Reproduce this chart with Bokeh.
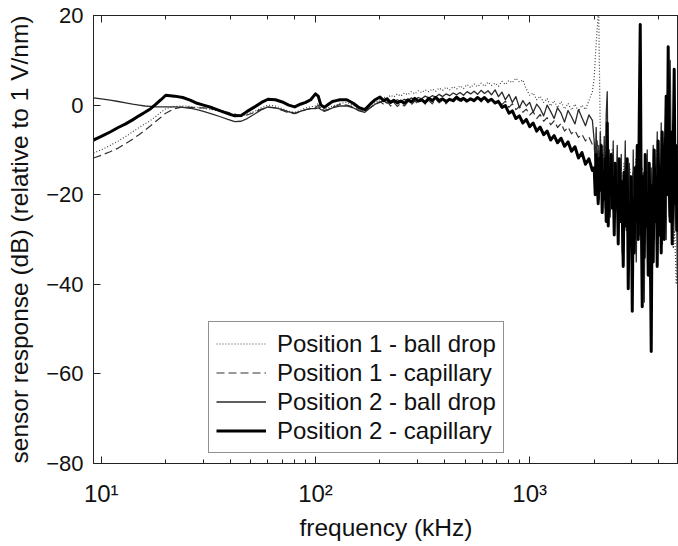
from bokeh.plotting import figure
from bokeh.models import LogAxis, Range1d, Legend, LegendItem, FixedTicker
from bokeh.embed import file_html
from bokeh.resources import INLINE

# ---------------- data (frequency in kHz, response in dB) ----------------
freq_low = [9.2, 10, 11, 12, 13, 14, 15, 16, 17, 18, 19, 20, 22, 24, 26, 28, 30, 33, 36, 39,
            42, 45, 48, 52, 56, 60, 65, 70, 75, 80, 85, 90, 95, 100, 103, 106, 110, 115, 120,
            125, 130, 140, 150, 160, 170, 180, 190]
freq_mid = [200, 208, 216, 224, 232, 241, 250, 260, 270, 280, 291, 302, 313, 325, 338, 351, 364,
            378, 392, 407, 423, 439, 456, 473, 491, 510, 530, 550, 571, 593, 615, 639, 663, 689,
            715, 742, 770, 800, 830, 862, 895, 929, 964, 1000, 1038, 1078, 1119, 1162, 1206,
            1252, 1300, 1349, 1401, 1454, 1510, 1567, 1627, 1689, 1754, 1821, 1890, 1962]
freq_high = [2000, 2032, 2065, 2098, 2132, 2167, 2202, 2237, 2273, 2310, 2347, 2385, 2424, 2463,
             2503, 2543, 2584, 2626, 2668, 2711, 2755, 2800, 2845, 2891, 2938, 2985, 3033, 3082,
             3132, 3183, 3234, 3287, 3340, 3394, 3449, 3504, 3561, 3619, 3677, 3737, 3797, 3858,
             3921, 3984, 4049, 4114, 4181, 4248, 4317, 4387, 4458, 4530, 4603, 4678, 4754, 4830,
             4910, 4950]
freq_high_dense = [2000, 2022, 2043, 2066, 2088, 2111, 2134, 2157, 2180, 2204,
                   2228, 2252, 2276, 2301, 2326, 2351, 2376, 2402, 2428, 2454,
                   2481, 2508, 2535, 2562, 2590, 2618, 2646, 2675, 2704, 2733,
                   2763, 2793, 2823, 2853, 2884, 2915, 2947, 2979, 3011, 3043,
                   3076, 3109, 3143, 3177, 3211, 3246, 3281, 3316, 3352, 3388,
                   3425, 3462, 3499, 3537, 3575, 3614, 3653, 3692, 3732, 3772,
                   3813, 3854, 3896, 3938, 3980, 4023, 4067, 4111, 4155, 4200,
                   4245, 4291, 4337, 4384, 4431, 4479, 4527, 4576, 4625, 4675,
                   4726, 4777, 4828, 4880, 4950]

# Position 1 - ball drop (dotted)
p1_ball_low = [-10.7, -10.0, -9.0, -8.0, -7.0, -6.0, -5.0, -4.2, -3.4, -2.5, -1.6, -0.8, -0.3, -0.2,
               -0.3, -0.5, -0.7, -1.0, -1.4, -1.9, -2.3, -2.5, -2.0, -1.4, -0.6, 0.0, -0.2, -0.8,
               -1.4, -1.6, -1.2, -0.6, -0.4, -0.2, 0.4, -0.6, -1.0, -0.6, -0.2, 0.0, 0.4, 0.6, 0.0,
               -0.8, -1.2, -0.2, 0.6]
p1_ball_mid = [1.2, 1.8, 1.5, 2.2, 1.8, 2.5, 2.0, 2.7, 2.3, 3.0, 2.5, 3.2, 2.8, 3.4, 3.0, 3.6, 3.1,
               3.8, 3.3, 4.0, 3.4, 4.1, 3.6, 4.3, 3.7, 4.6, 3.9, 4.7, 4.1, 4.9, 4.2, 5.1, 4.4, 4.9,
               4.2, 5.3, 4.6, 5.5, 5.0, 6.0, 5.2, 5.6, 3.6, 2.2, 2.7, 1.2, 2.0, 0.6, 1.5, -0.2, 1.0,
               -0.6, 0.8, -0.9, 0.4, -1.1, 0.2, -1.4, 0.0, -1.0, 1.0, 3.0]
p1_ball_high = [6, 12, 17, 22, -4, -12, -9, -16, -11, -20, -13, -18, -10, -22, -14, -19, -12, -24,
                -15, -21, -13, -26, -17, -22, -14, -28, -18, -24, -12, -20, -8, -15, -20, -30, -16,
                -25, -14, -28, -18, -24, -15, -22, -10, -26, -16, -22, -12, -20, -8, -16, -5, -22,
                -12, -32, -28, -40, -33, -49]

# Position 1 - capillary (dashed)
p1_cap_low = [-11.8, -11.2, -10.4, -9.6, -8.6, -7.6, -6.6, -5.6, -4.6, -3.6, -2.7, -1.8, -0.8, -0.4,
              -0.5, -0.6, -0.6, -0.9, -1.2, -1.6, -2.0, -2.4, -2.2, -1.6, -0.9, -0.5, -0.6, -1.2,
              -1.7, -1.9, -1.5, -1.0, -0.8, -0.6, 0.0, -1.0, -1.4, -1.0, -0.4, -0.2, 0.2, 0.0, -0.4,
              -1.2, -1.4, -0.6, 0.2]
p1_cap_mid = [0.8, 0.2, 0.9, -0.2, 0.6, -0.3, 0.4, -0.2, 0.7, 0.1, 0.9, 0.3, 1.1, 0.2, 1.0, 0.3, 1.3,
              0.5, 1.1, 0.3, 1.3, 0.6, 1.5, 0.5, 1.3, 0.5, 1.5, 0.8, 1.6, 0.7, 1.5, 0.5, 1.3, 0.3,
              1.1, 0.1, 0.9, -0.5, 0.3, -1.0, -0.3, -1.6, -0.9, -2.2, -1.5, -3.0, -2.1, -3.6, -2.8,
              -4.4, -3.5, -5.0, -4.1, -5.8, -4.9, -6.4, -5.7, -7.2, -6.5, -8.0, -7.1, -8.8]
p1_cap_high = [-9, -13, -8, -15, -10, -17, -11, -19, -12, -16, -13, -20, -14, -17, -15, -22, -13,
               -18, -15, -24, -16, -19, -14, -26, -17, -21, -15, -28, -18, -22, -10, -18, -14, -30,
               -19, -24, -15, -32, -20, -26, -14, -22, -12, -28, -18, -24, -10, -20, -12, -18, -6,
               -24, -10, -22, -4, -18, -14, -26]

# Position 2 - ball drop (thin solid)
p2_ball_low = [1.6, 1.4, 1.1, 0.8, 0.5, 0.2, 0.0, -0.2, -0.3, -0.4, -0.4, -0.4, -0.4, -0.5, -0.7,
               -1.0, -1.4, -2.0, -2.6, -3.2, -3.7, -3.6, -3.0, -2.0, -1.0, -0.4, -0.6, -1.0, -1.5,
               -1.8, -1.4, -1.0, -0.8, -0.8, -0.6, -1.0, -1.2, -1.0, -0.6, -0.4, -0.2, -0.2, -0.6,
               -1.3, -1.6, -0.6, 0.2]
p2_ball_mid = [0.6, 1.0, 0.4, 0.9, 0.6, 1.2, 0.8, 1.3, 1.0, 1.6, 1.2, 1.7, 1.4, 2.0, 1.6, 2.1, 1.8,
               2.4, 1.9, 2.5, 2.1, 2.7, 2.3, 2.8, 2.2, 3.0, 2.5, 3.1, 2.4, 3.3, 2.6, 3.2, 2.3, 3.4,
               1.9, 2.9, 1.2, 2.4, 0.6, 1.9, -0.6, 1.0, -0.2, 0.6, -1.6, 0.2, -0.8, -2.4, 0.0, -1.4,
               -3.0, -0.6, -1.8, -3.8, -1.2, -2.6, -4.2, -1.0, -2.8, -4.6, -2.2, -3.4]
p2_ball_high = [-8, -14, -5, -17, -9, -21, -6, -15, -11, -19,
                -7, -23, -2, 3, -18, -10, -25, -12, -20, -8,
                -27, -14, -19, -9, -30, -16, -24, -11, -33, -15,
                -22, -8, -28, -17, -38, -13, -25, -19, -31, -10,
                -27, -16, -35, -20, -12, -29, -6, -22, -36, -15,
                -44, -18, -26, -10, -32, -21, -40, -14, -27, -9,
                -30, -17, -24, -6, -28, -13, -20, -4, -31, -11,
                -23, -8, -30, 2, -16, -25, 10, -12, -22, -5,
                -18, -28, -10, -35, -49]

# Position 2 - capillary (thick solid)
p2_cap_low = [-7.8, -7.0, -6.0, -5.0, -4.2, -3.3, -2.4, -1.6, -0.8, 0.2, 1.2, 2.2, 2.0, 1.7, 1.1,
              0.4, 0.0, -0.6, -1.3, -1.9, -2.4, -2.3, -1.4, -0.4, 0.6, 1.3, 1.2, 0.7, 0.0, -0.4,
              0.2, 0.6, 1.2, 2.5, 2.0, 0.0, -0.5, 0.2, 0.8, 1.0, 1.2, 1.2, 0.4, -0.6, -1.0, 0.2, 1.2]
p2_cap_mid = [1.8, 1.0, 1.4, 0.6, 1.1, 0.5, 0.9, 0.4, 1.2, 0.7, 1.5, 0.9, 1.2, 0.6, 1.5, 1.0, 1.7,
              1.0, 1.4, 0.8, 1.3, 1.0, 1.8, 1.1, 1.5, 0.9, 1.4, 1.0, 1.7, 1.1, 1.7, 0.9, 1.3, 0.5,
              0.8, -0.5, -0.1, -1.8, -1.3, -3.0, -2.4, -4.0, -3.2, -4.8, -4.0, -5.8, -4.9, -6.6,
              -5.8, -7.8, -6.8, -8.4, -7.4, -9.2, -8.2, -10.3, -9.3, -11.8, -10.6, -13.2, -12.0,
              -14.6]
p2_cap_high = [-14, -20, -11, -17, -22, -12, -19, -9, -24, -15,
               -21, -12, -26, -4, -27, -14, -20, -11, -23, -16,
               -29, -13, -22, -18, -31, -12, -26, -17, -24, -36,
               -15, -27, -19, -12, -41, -22, -30, -16, -46, -21,
               -33, -14, -26, -9, -30, -3, 18, -22, -45, -16,
               -34, -11, -27, -20, -38, -13, -30, -55, -18, -35,
               -10, -26, -16, -36, -8, -29, -14, -33, -6, -22,
               -30, -12, 2, -20, 13, -17, -26, -6, -31, -11,
               8, -22, -9, -28, -14]

series_labels = ["Position 1 - ball drop", "Position 1 - capillary",
                 "Position 2 - ball drop", "Position 2 - capillary"]

x_ticks = [10, 100, 1000]
x_tick_labels = ["10\u00b9", "10\u00b2", "10\u00b3"]
y_ticks = [-80, -60, -40, -20, 0, 20]

freq_sparse = freq_low + freq_mid + freq_high
freq_dense = freq_low + freq_mid + freq_high_dense
series = [(freq_sparse, p1_ball_low + p1_ball_mid + p1_ball_high),
          (freq_sparse, p1_cap_low + p1_cap_mid + p1_cap_high),
          (freq_dense, p2_ball_low + p2_ball_mid + p2_ball_high),
          (freq_dense, p2_cap_low + p2_cap_mid + p2_cap_high)]

# ---------------- figure ----------------
FONT = "Liberation Sans"
p = figure(width=678, height=546, output_backend="svg", toolbar_location=None,
           x_axis_type="log", x_range=Range1d(9.2, 4950), y_range=Range1d(-80, 20),
           min_border_left=93, min_border_right=0, min_border_top=15, min_border_bottom=83)
p.background_fill_color = "white"
p.border_fill_color = "white"
p.outline_line_color = "#222222"
p.grid.visible = False

styles = [dict(line_color="#444444", line_width=1.2, line_dash="1 2"),
          dict(line_color="#333333", line_width=1.2, line_dash="8 4"),
          dict(line_color="#2a2a2a", line_width=1.3),
          dict(line_color="#000000", line_width=3)]
renderers = []
for (fx, vals), st in zip(series, styles):
    r = p.line(fx, vals, line_join="round", **st)
    renderers.append(r)

def style_axis(ax):
    ax.axis_line_color = "#222222"
    ax.major_tick_line_color = "#222222"
    ax.minor_tick_line_color = "#222222"
    ax.major_tick_in = 7
    ax.major_tick_out = 0
    ax.minor_tick_in = 4
    ax.minor_tick_out = 0
    ax.major_label_text_font = FONT
    ax.major_label_text_color = "#111111"
    ax.axis_label_text_font = FONT
    ax.axis_label_text_font_style = "normal"
    ax.axis_label_text_color = "#111111"

xa = p.xaxis[0]
style_axis(xa)
xa.major_label_overrides = {t: s for t, s in zip(x_ticks, x_tick_labels)}
xa.major_label_text_font_size = "24px"
xa.major_label_standoff = 16
xa.axis_label = "frequency (kHz)"
xa.axis_label_text_font_size = "24.5px"
xa.axis_label_standoff = 4

ya = p.yaxis[0]
style_axis(ya)
ya.ticker = FixedTicker(ticks=y_ticks, minor_ticks=[])
ya.major_label_text_font_size = "22px"
ya.major_label_standoff = 10
ya.axis_label = "sensor response (dB) (relative to 1 V/nm)"
ya.axis_label_text_font_size = "24.5px"
ya.axis_label_standoff = 10

top = LogAxis()
style_axis(top)
top.major_label_text_font_size = "2px"
top.major_label_text_alpha = 0
top.major_label_standoff = 0
p.add_layout(top, "above")

legend = Legend(items=[LegendItem(label=l, renderers=[r]) for l, r in zip(series_labels, renderers)],
                location=(115, 10))
legend.label_text_font = FONT
legend.label_text_font_size = "24px"
legend.label_text_color = "#111111"
legend.label_height = 29
legend.glyph_height = 29
legend.glyph_width = 50
legend.label_standoff = 11
legend.padding = 7
legend.spacing = 0
legend.margin = 0
legend.border_line_color = "#222222"
legend.border_line_width = 1
legend.background_fill_alpha = 1
p.add_layout(legend, "center")

open("out.html", "w").write(file_html(p, INLINE))
